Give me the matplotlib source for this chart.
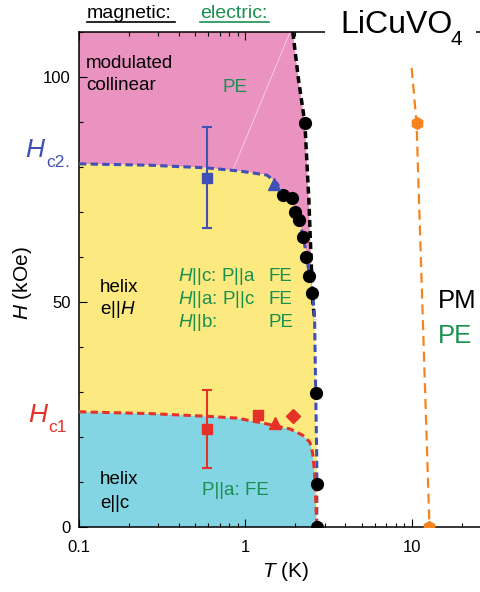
import matplotlib
matplotlib.use("Agg")
import matplotlib.pyplot as plt
from matplotlib.lines import Line2D
from matplotlib.patches import Rectangle
from matplotlib.ticker import MultipleLocator, NullFormatter

plt.rcParams['font.family'] = 'Liberation Sans'
plt.rcParams['mathtext.fontset'] = 'custom'
plt.rcParams['mathtext.rm'] = 'Liberation Sans'
plt.rcParams['mathtext.it'] = 'Liberation Sans:italic'

# ================= DATA =================
# T in K, H in kOe
tn_T = [1.93, 2.09, 2.28, 2.41, 2.54, 2.61]
tn_H = [110, 99.3, 89.8, 72.7, 50.4, 46]

hc2_T = [0.1, 0.267, 0.587, 0.927, 1.35, 1.545, 1.70, 1.90, 2.01, 2.12,
         2.24, 2.34, 2.44, 2.54, 2.61, 2.65, 2.69, 2.69]
hc2_H = [80.7, 80.4, 79.8, 79.1, 78.2, 76.4, 74.2, 72.9, 70.2, 67.8,
         64.2, 59.8, 55.6, 51.6, 46, 29.8, 14.9, 0]

hc1_T = [0.1, 0.267, 0.587, 0.889, 1.27, 1.85, 2.21, 2.44, 2.54, 2.61, 2.65, 2.69]
hc1_H = [25.6, 25.2, 24.6, 24.2, 23.1, 21.8, 20.4, 18.9, 16.4, 12, 6, 0]

dots_T = [2.28, 1.68, 1.90, 1.98, 2.10, 2.22, 2.31, 2.41, 2.51, 2.65, 2.69, 2.69]
dots_H = [89.8, 73.8, 73.1, 70.0, 68.2, 64.4, 60.0, 55.8, 52.0, 29.8, 9.6, 0]

pm_T = [10.0, 10.7, 12.8]
pm_H = [102, 89.8, 0]

# blue (Hc2) markers
b_sq_T, b_sq_H, b_sq_err = 0.587, 77.6, [[11.2], [11.4]]
b_tri_T, b_tri_H = 1.48, 76.2
# red (Hc1) markers
r_sq_T, r_sq_H, r_sq_err = 0.587, 21.8, [[8.7], [8.6]]
r_sq2_T, r_sq2_H = 1.20, 24.9
r_tri_T, r_tri_H = 1.50, 23.2
r_dia_T, r_dia_H = 1.93, 24.7

# faint line in pink area
streak_T = [0.841, 1.85]
streak_H = [79.3, 109.8]

PINK = '#EA92C0'
YELLOW = '#FCE97F'
CYAN = '#84D5E3'
BLUE = '#4050B5'
RED = '#E53228'
ORANGE = '#F5841F'
GREEN = '#1A9050'

# ================= FIGURE =================
fig = plt.figure(figsize=(4.81, 5.92), dpi=100)
ax = fig.add_axes([79 / 481, 65 / 592, 412 / 481, 495 / 592])
ax.set_xscale('log')
ax.set_xlim(0.1, 30)
ax.set_ylim(0, 110)


def px(x, y):
    return x / 481, 1 - y / 592


# regions
keep = [i for i, h in enumerate(hc2_H) if h >= tn_H[-1]]
pink_T = [0.1] + tn_T + [hc2_T[i] for i in keep[::-1]]
pink_H = [110] + tn_H + [hc2_H[i] for i in keep[::-1]]
ax.fill(pink_T, pink_H, color=PINK, lw=0, zorder=1)
ax.fill(hc2_T + hc1_T[::-1], hc2_H + hc1_H[::-1], color=YELLOW, lw=0, zorder=1)
ax.fill(hc1_T + [0.1], hc1_H + [0], color=CYAN, lw=0, zorder=1)
ax.plot(streak_T, streak_H, color='white', lw=0.6, alpha=0.6, zorder=1.2)

# boundaries
ax.plot(tn_T, tn_H, color='black', lw=2.5, dashes=(2, 1.2), zorder=3)
ax.plot(hc2_T, hc2_H, color=BLUE, lw=2.2, dashes=(2.4, 1.4), zorder=3)
ax.plot(hc1_T, hc1_H, color=RED, lw=2.2, dashes=(2.4, 1.4), zorder=3.5)
ax.plot(pm_T, pm_H, color=ORANGE, lw=1.6, dashes=(4.5, 2.6), zorder=3)

# markers
ax.plot(dots_T, dots_H, 'o', color='black', ms=8.5, zorder=5)
ax.plot(pm_T[1:], pm_H[1:], 'h', color=ORANGE, ms=8.5, zorder=5)
ax.errorbar(b_sq_T, b_sq_H, yerr=b_sq_err, fmt='s', color=BLUE, ms=7,
            elinewidth=1.5, capsize=3.8, capthick=1.5, zorder=5)
ax.plot(b_tri_T, b_tri_H, '^', color=BLUE, ms=8.5, zorder=5)
ax.errorbar(r_sq_T, r_sq_H, yerr=r_sq_err, fmt='s', color=RED, ms=7.5,
            elinewidth=1.5, capsize=3.8, capthick=1.5, zorder=5)
ax.plot(r_sq2_T, r_sq2_H, 's', color=RED, ms=7.5, zorder=5)
ax.plot(r_tri_T, r_tri_H, '^', color=RED, ms=8.5, zorder=5)
ax.plot(r_dia_T, r_dia_H, 'D', color=RED, ms=7, zorder=5)

# ================= AXES =================
for side in ['left', 'bottom', 'top']:
    ax.spines[side].set_linewidth(1.1)
ax.spines['right'].set_visible(False)
ax.set_xticks([0.1, 1, 10], ['0.1', '1', '10'])
ax.xaxis.set_minor_formatter(NullFormatter())
ax.set_yticks([0, 50, 100])
ax.yaxis.set_minor_locator(MultipleLocator(10))
ax.tick_params(which='both', direction='in', top=True, right=False, width=0.8, labelsize=12)
ax.tick_params(which='major', length=6)
ax.tick_params(which='minor', length=3)
ax.tick_params(axis='x', pad=9)
ax.tick_params(axis='y', pad=6)

ax.set_xlabel(r'$T$ (K)', fontsize=15)
ax.xaxis.label.set_va('center')
ax.xaxis.set_label_coords(0.502, -0.089)
ax.set_ylabel(r'$H$ (kOe)', fontsize=15)
ax.yaxis.label.set_va('center')
ax.yaxis.set_label_coords(-0.138, 0.493)

# ================= LABELS =================
fig.text(*px(87, 18), 'magnetic:', fontsize=14, color='black')
fig.text(*px(200, 18), 'electric:', fontsize=14, color=GREEN)
fig.add_artist(Line2D([87 / 481, 175 / 481], [1 - 22 / 592] * 2, color='black', lw=1.2))
fig.add_artist(Line2D([200 / 481, 269 / 481], [1 - 22 / 592] * 2, color=GREEN, lw=1.2))

# white patch behind the compound name hides the top spine there
fig.add_artist(Rectangle(px(325, 52), 151 / 481, 52 / 592, fc='white', ec='none', zorder=3))
fig.text(*px(340, 33), 'LiCuVO', fontsize=23, color='black', va='baseline', zorder=4)
fig.text(*px(451, 45), '4', fontsize=15, color='black', va='baseline', zorder=4)

fig.text(*px(25, 157), 'H', fontsize=19, style='italic', color=BLUE, va='baseline')
fig.text(*px(46, 167), 'c2', fontsize=12.5, color=BLUE, va='baseline')
fig.text(*px(64, 167), '.', fontsize=12.5, color=BLUE, va='baseline')
fig.text(*px(28, 422), 'H', fontsize=19, style='italic', color=RED, va='baseline')
fig.text(*px(48, 432), 'c1', fontsize=12.5, color=RED, va='baseline')

fig.text(*px(86, 68), 'modulated', fontsize=13.5, va='baseline')
fig.text(*px(86, 90), 'collinear', fontsize=13.5, va='baseline')
fig.text(*px(223, 92), 'PE', fontsize=13.5, color=GREEN, va='baseline')

fig.text(*px(100, 292), 'helix', fontsize=13.5, va='baseline')
fig.text(*px(100, 314), r'e||$H$', fontsize=13.5, va='baseline')
green_rows = [(r'$H$||c: P||a', 'FE', 281), (r'$H$||a: P||c', 'FE', 304), (r'$H$||b:', 'PE', 327)]
for left, right, y in green_rows:
    fig.text(*px(178, y), left, fontsize=13.5, color=GREEN, va='baseline')
    fig.text(*px(268, y), right, fontsize=13.5, color=GREEN, va='baseline')

fig.text(*px(100, 484), 'helix', fontsize=13.5, va='baseline')
fig.text(*px(100, 508), 'e||c', fontsize=13.5, va='baseline')
fig.text(*px(202, 495), 'P||a: FE', fontsize=13.5, color=GREEN, va='baseline')

fig.text(*px(438, 308), 'PM', fontsize=18.5, va='baseline')
fig.text(*px(438, 343), 'PE', fontsize=18.5, color=GREEN, va='baseline')

fig.savefig('out.png', dpi=100)
